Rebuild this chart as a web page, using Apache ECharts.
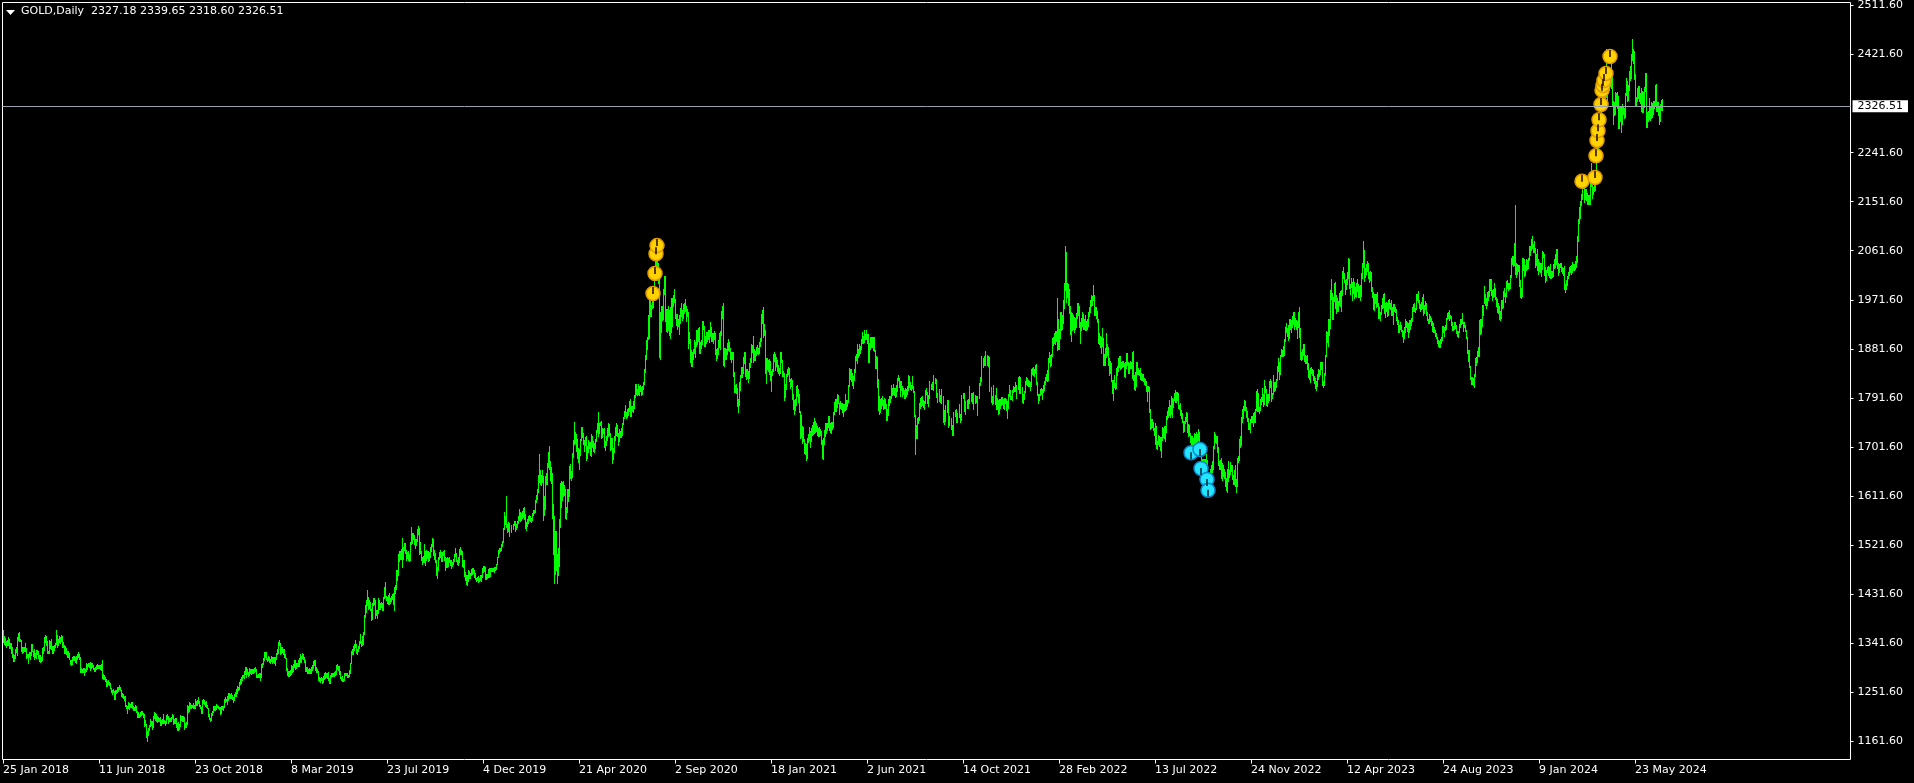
<!DOCTYPE html>
<html><head><meta charset="utf-8">
<script src="https://cdn.jsdelivr.net/npm/echarts@6.0.0/dist/echarts.min.js"></script>
<style>html,body{margin:0;padding:0;background:#000;overflow:hidden}#c{width:1914px;height:783px}</style>
</head><body><div id="c"></div>
<script>
// ---- Daily highs / lows (GOLD, Daily) ----
const hi2018=[1366,1355,1351,1345,1348,
1352,1349,1342,1341,1335,1322,1320,1330,1334,1352,1361,1362,1350,1348,1334,1334,1334,1341,1333,1321,
1322,1325,1325,1340,1340,1328,1330,1323,1329,1329,1328,1319,1319,1316,1333,1334,1352,1356,1355,1345,1328,
1347,1345,1349,1336,1337,1339,1342,1366,1356,1349,1355,1353,1356,1354,1344,1339,1337,1333,1327,1328,1324,
1310,1310,1316,1318,1318,1316,1318,1322,1325,1322,1316,1296,1294,1296,1296,1294,1305,1304,1306,1305,1307,1305,1306,
1302,1296,1298,1301,1304,1302,1302,1301,1304,1310,1285,1284,1280,1275,1272,1274,1270,1269,1260,1256,1257,
1253,1256,1256,1262,1262,1264,1261,1256,1250,1249,1245,1245,1229,1227,1233,1232,1230,1233,1233,1226,1225,1228,
1226,1218,1215,1212,1216,1217,1217,1214,1211,1200,1193,1180,1186,1192,1203,1199,1198,1207,1216,1214,1211,1208,1206,
1205,1206,1201,1203,1212,1201,1198,1210,1212,1208,1205,1204,1206,1211,1210,1202,1204,1204,1195,1196,
1194,1209,1207,1207,1208,1206,1195,1197,1228,1227,1233,1232,1228,1229,1232,1229,1240,1236,1237,1243,1236,1229,1225,
1238,1240,1237,1233,1236,1228,1223,1211,1205,1213,1218,1226,1226,1227,1230,1229,1226,1225,1224,1226,1227,1226,
1239,1242,1240,1244,1250,1250,1249,1250,1246,1243,1249,1252,1258,1263,1261,1271,1275,1279,1283,1284];
const lo2018=[1341,1338,1336,1333,1336,
1337,1331,1330,1322,1315,1307,1307,1313,1324,1318,1345,1343,1343,1325,1322,1324,1325,1326,1313,1314,
1303,1315,1311,1318,1326,1316,1310,1314,1313,1320,1313,1307,1306,1307,1309,1322,1328,1342,1336,1322,1321,
1322,1331,1329,1321,1322,1328,1332,1338,1333,1336,1342,1340,1343,1333,1332,1322,1322,1319,1315,1314,1310,
1301,1300,1302,1308,1309,1305,1304,1311,1314,1311,1287,1287,1286,1286,1282,1286,1288,1292,1297,1296,1290,1295,1296,
1293,1288,1288,1292,1294,1294,1294,1292,1290,1275,1274,1274,1271,1262,1261,1265,1263,1257,1251,1246,1250,
1237,1238,1249,1250,1252,1255,1253,1242,1241,1239,1236,1225,1221,1211,1221,1219,1222,1222,1221,1218,1217,1218,
1214,1204,1204,1205,1206,1208,1209,1205,1188,1190,1167,1160,1172,1180,1187,1190,1183,1186,1202,1199,1197,1195,1197,
1196,1189,1190,1194,1193,1193,1189,1194,1201,1193,1196,1197,1197,1202,1192,1193,1194,1185,1180,1181,
1182,1188,1199,1196,1196,1183,1185,1186,1192,1214,1215,1221,1220,1222,1221,1220,1221,1227,1226,1230,1224,1220,1211,
1212,1230,1228,1225,1222,1220,1206,1200,1196,1199,1208,1213,1218,1217,1219,1222,1220,1219,1210,1211,1219,1217,
1222,1231,1234,1229,1235,1240,1240,1240,1237,1232,1236,1243,1243,1248,1254,1256,1264,1266,1273,1277];
const hi2019=[1291,1297,1298,1295,1288,1296,1294,1295,1294,1294,1296,1298,1295,1284,1285,1286,1286,1303,1306,1314,1326,1326,
1325,1315,1318,1316,1313,1318,1316,1316,1316,1316,1324,1330,1344,1347,1342,1335,1334,1330,1330,1322,
1315,1296,1290,1291,1293,1301,1300,1303,1311,1311,1305,1305,1310,1315,1321,1318,1324,1322,1316,1311,1298,
1298,1294,1296,1295,1297,1302,1309,1311,1310,1297,1295,1290,1280,1278,1280,1278,1282,1286,1289,1287,1286,
1289,1278,1283,1286,1287,1287,1288,1290,1302,1303,1299,1299,1290,1280,1282,1276,1286,1287,1286,1286,1284,1292,1306,
1328,1330,1336,1340,1348,1340,1331,1337,1346,1358,1345,1354,1362,1394,1411,1420,1439,1426,1420,1417,
1405,1416,1425,1424,1421,1403,1402,1424,1420,1416,1418,1416,1427,1445,1453,1429,1427,1430,1433,1424,1428,1432,1434,
1445,1449,1475,1475,1505,1510,1510,1515,1535,1518,1525,1525,1513,1508,1510,1505,1528,1555,1543,1544,1540,1532,
1533,1551,1557,1552,1528,1511,1500,1502,1523,1510,1513,1511,1510,1508,1518,1524,1535,1533,1512,1507,1495,
1482,1500,1509,1512,1509,1509,1511,1512,1499,1497,1499,1497,1500,1495,1495,1490,1496,1505,1517,1507,1495,1499,1515,
1518,1512,1510,1494,1495,1473,1467,1466,1475,1474,1471,1477,1479,1479,1475,1470,1462,1463,1464,1461,1466,
1467,1480,1484,1483,1482,1468,1468,1478,1479,1479,1479,1480,1479,1481,1481,1487,1499,1512,1516,1516,1524];
const lo2019=[1276,1283,1277,1283,1279,1281,1285,1284,1285,1285,1287,1289,1278,1277,1277,1278,1273,1278,1296,1301,1309,1315,
1310,1307,1309,1305,1303,1307,1304,1305,1304,1300,1310,1320,1321,1336,1320,1321,1323,1319,1315,1312,
1291,1282,1280,1280,1282,1283,1286,1289,1296,1293,1294,1297,1298,1297,1305,1306,1312,1311,1305,1288,1289,
1285,1285,1285,1285,1285,1290,1295,1300,1290,1286,1286,1272,1271,1268,1272,1266,1268,1274,1275,1278,1276,
1272,1266,1267,1277,1279,1279,1280,1281,1283,1292,1290,1284,1275,1273,1270,1271,1272,1281,1282,1277,1277,1279,1285,
1304,1320,1319,1327,1333,1322,1320,1325,1330,1340,1335,1337,1339,1357,1387,1397,1410,1402,1404,1400,
1382,1384,1409,1412,1386,1391,1386,1395,1402,1402,1406,1401,1401,1422,1425,1419,1414,1412,1412,1413,1417,1420,1411,
1400,1432,1440,1455,1465,1490,1494,1494,1480,1495,1510,1506,1493,1496,1492,1490,1493,1522,1524,1531,1521,1515,
1520,1527,1540,1503,1505,1493,1485,1488,1489,1484,1493,1496,1490,1493,1497,1508,1518,1501,1495,1489,1464,
1459,1474,1494,1497,1491,1490,1502,1493,1474,1480,1480,1482,1488,1484,1478,1481,1485,1490,1500,1491,1485,1483,1489,
1503,1503,1481,1480,1463,1456,1449,1446,1454,1460,1459,1464,1467,1468,1462,1458,1454,1455,1452,1454,1455,
1454,1462,1470,1472,1458,1458,1460,1462,1462,1463,1472,1473,1472,1471,1474,1476,1485,1497,1505,1508,1510];
const hi2020=[1529,1553,1582,1575,1611,1561,1563,1562,1550,1558,1558,1561,1566,1566,1561,1566,1574,1588,1583,1580,1584,1590,
1592,1578,1563,1569,1575,1576,1574,1572,1580,1585,1586,1604,1613,1625,1650,1689,1660,1650,1660,1648,
1611,1649,1653,1673,1692,1703,1675,1665,1654,1596,1575,1547,1548,1505,1516,1570,1635,1640,1637,1640,1632,1624,
1592,1625,1625,1667,1671,1657,1690,1715,1747,1729,1725,1716,1700,1698,1717,1738,1738,1728,1715,1720,1722,
1703,1715,1711,1710,1726,1722,1712,1709,1717,1733,1745,1765,1745,1748,1749,1737,1734,1737,1712,1722,1737,
1745,1744,1727,1718,1718,1700,1722,1739,1745,1742,1727,1734,1731,1736,1745,1756,1768,1779,1765,1772,1773,1785,
1789,1776,1777,1785,1796,1818,1818,1808,1818,1813,1815,1812,1813,1820,1844,1871,1898,1903,1944,1981,1970,1962,1984,
1986,2020,2055,2070,2075,2040,2030,1950,1960,1960,1991,2015,2015,1955,1954,1960,1952,1958,1975,1974,1980,
1992,1973,1946,1945,1936,1944,1956,1965,1953,1963,1966,1973,1961,1955,1950,1913,1900,1880,1876,1882,1897,1894,
1917,1917,1919,1921,1895,1898,1932,1933,1923,1905,1913,1912,1916,1916,1931,1922,1910,1911,1914,1911,1882,1883,
1898,1911,1915,1951,1960,1965,1884,1883,1882,1892,1900,1895,1883,1875,1876,1875,1840,1815,1817,1810,1790,
1820,1833,1848,1848,1866,1875,1875,1844,1845,1841,1855,1864,1891,1889,1906,1882,1878,1885,1889,1883,1894,1901];
const lo2020=[1518,1525,1550,1558,1553,1543,1545,1546,1536,1543,1547,1550,1557,1546,1549,1552,1561,1566,1563,1565,1570,1572,
1568,1551,1548,1554,1561,1566,1563,1562,1566,1574,1578,1580,1598,1605,1618,1636,1632,1630,1635,1565,
1575,1585,1632,1632,1663,1660,1640,1634,1570,1504,1451,1466,1474,1451,1465,1482,1552,1590,1603,1609,1612,1569,
1568,1580,1601,1610,1643,1640,1645,1681,1706,1707,1692,1680,1673,1660,1685,1712,1718,1705,1692,1704,1675,
1680,1690,1698,1685,1684,1700,1692,1691,1697,1710,1727,1720,1725,1740,1716,1718,1725,1700,1695,1703,1712,
1720,1722,1694,1696,1670,1677,1690,1712,1722,1720,1704,1710,1718,1718,1722,1741,1752,1757,1752,1755,1759,1766,
1757,1757,1765,1764,1772,1791,1796,1795,1797,1795,1803,1795,1797,1806,1815,1838,1862,1880,1898,1899,1940,1940,1955,
1956,1970,2015,2032,2015,2000,1864,1862,1910,1932,1935,1980,1930,1912,1911,1915,1906,1899,1910,1921,1958,
1966,1936,1924,1917,1922,1907,1927,1940,1932,1937,1946,1949,1930,1940,1882,1891,1855,1849,1848,1861,1872,1865,
1885,1888,1895,1873,1873,1881,1888,1917,1885,1885,1890,1895,1897,1893,1904,1895,1894,1890,1897,1871,1860,1863,
1870,1884,1879,1905,1936,1850,1848,1861,1862,1871,1878,1876,1862,1855,1861,1830,1800,1800,1799,1775,1764,
1776,1805,1828,1828,1835,1854,1830,1824,1826,1819,1826,1847,1855,1874,1855,1860,1860,1868,1872,1871,1873,1885];
const hi2021=[1945,1953,1959,1927,1917,1864,1864,1862,1863,1859,1841,1845,1872,1875,1872,1867,1862,1852,1846,1875,
1875,1862,1841,1837,1818,1835,1844,1848,1847,1827,1829,1825,1799,1788,1790,1813,1815,1808,1798,1768,
1760,1740,1738,1717,1709,1707,1718,1726,1739,1731,1736,1741,1748,1755,1750,1745,1740,1737,1738,1735,1730,1714,1718,
1733,1745,1746,1745,1759,1759,1746,1748,1747,1766,1784,1790,1790,1798,1797,1783,1785,1783,1783,1780,1780,
1799,1787,1787,1816,1846,1845,1844,1837,1831,1845,1869,1873,1890,1882,1890,1887,1900,1913,1906,1916,1908,
1916,1909,1909,1893,1904,1903,1903,1903,1903,1879,1868,1866,1826,1795,1789,1792,1795,1787,1792,1789,1780,1772,
1790,1795,1795,1815,1809,1818,1810,1809,1815,1829,1834,1829,1823,1823,1813,1809,1807,1810,1808,1814,1833,1832,
1820,1815,1832,1813,1804,1761,1741,1755,1757,1782,1791,1794,1795,1788,1785,1806,1809,1802,1797,1823,1820,1817,
1820,1817,1834,1828,1827,1800,1800,1808,1796,1808,1802,1795,1770,1769,1778,1788,1787,1755,1759,1755,1742,1764,
1765,1770,1771,1763,1764,1781,1762,1770,1796,1800,1800,1772,1785,1788,1790,1813,1810,1800,1800,1801,1802,
1797,1795,1794,1795,1819,1830,1834,1868,1864,1869,1870,1877,1870,1869,1866,1847,1812,1795,1797,1816,1796,1809,
1792,1787,1790,1789,1793,1793,1790,1791,1792,1790,1785,1799,1815,1806,1795,1807,1813,1812,1820,1812,1815,1830];
const lo2021=[1895,1928,1901,1906,1835,1817,1843,1839,1834,1823,1802,1831,1840,1858,1841,1849,1840,1836,1831,1836,
1855,1830,1830,1785,1791,1807,1830,1833,1820,1808,1811,1788,1770,1760,1768,1776,1793,1782,1764,1717,
1718,1707,1711,1688,1687,1676,1679,1708,1713,1699,1711,1721,1723,1726,1727,1729,1722,1720,1720,1722,1705,1680,1677,
1705,1720,1725,1730,1736,1731,1727,1726,1733,1736,1760,1765,1765,1773,1780,1760,1772,1770,1763,1756,1766,
1768,1770,1775,1782,1812,1825,1821,1813,1808,1823,1837,1860,1854,1865,1869,1873,1879,1890,1890,1893,1898,
1898,1890,1855,1855,1880,1883,1883,1877,1875,1845,1844,1810,1768,1761,1763,1772,1776,1770,1772,1771,1750,1750,
1758,1776,1783,1789,1795,1797,1795,1791,1793,1803,1822,1810,1794,1805,1794,1796,1789,1790,1794,1796,1805,1809,
1806,1804,1808,1801,1756,1687,1717,1717,1744,1750,1771,1774,1777,1773,1770,1781,1796,1780,1775,1790,1808,1806,
1806,1805,1809,1818,1792,1783,1785,1784,1782,1781,1791,1745,1742,1748,1762,1763,1737,1740,1741,1732,1722,1722,
1748,1756,1745,1745,1749,1755,1746,1750,1757,1789,1766,1760,1766,1772,1772,1780,1790,1784,1781,1781,1770,
1780,1782,1759,1763,1790,1813,1821,1822,1847,1850,1855,1850,1850,1849,1844,1802,1782,1778,1785,1781,1778,1770,
1770,1761,1762,1772,1776,1778,1772,1770,1781,1767,1752,1772,1794,1787,1787,1786,1800,1802,1803,1790,1795,1806];
const hi2022=[1831,1815,1830,1811,1799,1805,1823,1830,1829,1824,1823,1820,1845,1847,1848,1845,1852,1853,1820,1799,1799,
1808,1809,1808,1816,1822,1830,1836,1842,1865,1875,1870,1873,1902,1903,1911,1914,1914,1974,1936,1918,
1950,1950,1943,1971,2002,2070,2060,2003,2000,1991,1961,1950,1948,1944,1940,1939,1948,1966,1966,1960,1931,1939,1950,
1945,1937,1943,1932,1936,1949,1958,1971,1981,1979,1998,1980,1958,1959,1951,1936,1910,1906,1903,1920,
1901,1873,1883,1910,1890,1885,1865,1860,1856,1825,1825,1833,1819,1847,1850,1865,1869,1868,1857,1860,1860,1855,
1857,1874,1874,1858,1856,1860,1858,1876,1877,1833,1840,1857,1857,1847,1843,1847,1838,1835,1836,1829,1826,1822,
1813,1814,1812,1771,1752,1752,1747,1737,1745,1740,1713,1723,1721,1719,1720,1739,1736,1740,1740,1759,1767,
1775,1788,1778,1795,1792,1790,1800,1807,1802,1803,1800,1779,1783,1770,1763,1749,1750,1757,1765,1763,1744,1741,1728,
1722,1722,1718,1728,1726,1729,1726,1735,1729,1709,1708,1680,1680,1679,1680,1688,1678,1654,1642,1661,1669,1676,
1704,1729,1726,1721,1721,1702,1675,1677,1682,1672,1669,1662,1655,1645,1662,1675,1660,1674,1669,1668,1650,
1660,1669,1642,1682,1685,1717,1722,1757,1772,1776,1787,1786,1775,1768,1755,1745,1753,1759,1759,1764,1765,1772,
1804,1808,1800,1774,1790,1794,1810,1798,1824,1814,1808,1799,1799,1822,1826,1823,1800,1833,1821,1821,1826];
const lo2022=[1799,1798,1807,1782,1780,1788,1800,1816,1814,1811,1812,1805,1812,1834,1831,1830,1836,1815,1795,1780,1785,
1795,1796,1788,1801,1805,1816,1823,1820,1822,1855,1849,1850,1866,1886,1891,1888,1894,1878,1880,1879,
1900,1915,1917,1928,1954,1988,1966,1975,1960,1945,1907,1895,1915,1917,1910,1917,1919,1936,1941,1920,1890,1914,1921,
1917,1916,1915,1914,1917,1922,1940,1947,1959,1960,1970,1942,1941,1936,1929,1891,1889,1883,1872,1885,
1850,1851,1850,1865,1869,1850,1832,1835,1820,1798,1786,1810,1807,1808,1832,1840,1847,1842,1845,1846,1848,1830,
1828,1845,1850,1836,1836,1845,1845,1826,1823,1806,1805,1812,1834,1834,1831,1825,1823,1822,1820,1815,1813,1803,
1784,1802,1763,1732,1734,1736,1730,1722,1706,1697,1696,1706,1701,1694,1681,1712,1718,1716,1711,1728,1751,
1754,1759,1754,1761,1754,1773,1785,1782,1783,1786,1772,1770,1759,1753,1746,1727,1729,1743,1747,1727,1720,1721,1708,
1688,1698,1705,1700,1691,1706,1711,1712,1697,1696,1660,1654,1656,1662,1654,1657,1639,1627,1622,1615,1642,1653,
1660,1697,1708,1707,1690,1666,1659,1660,1642,1640,1646,1643,1628,1621,1617,1638,1645,1651,1655,1641,1632,
1631,1629,1617,1629,1672,1675,1700,1703,1746,1753,1767,1768,1755,1747,1733,1733,1728,1745,1745,1739,1745,1746,
1767,1766,1765,1762,1767,1779,1784,1775,1779,1801,1776,1774,1782,1785,1810,1784,1790,1796,1803,1804,1810];
const hi2023=[1851,1865,1858,1870,1881,1879,1886,1900,1922,1929,1920,1925,1936,1936,1935,1942,1949,1949,1938,1934,1932,
1950,1959,1919,1875,1881,1890,1890,1871,1869,1871,1855,1842,1846,1848,1844,1842,1831,1828,1823,1836,
1845,1843,1858,1858,1857,1822,1837,1870,1914,1913,1937,1936,1990,2010,1984,1976,2003,2004,1980,1975,1970,1984,1987,
1990,2025,2032,2021,2008,2009,2022,2048,2047,2000,2012,2005,2012,2005,1995,2003,2009,2000,1997,
1999,2020,2040,2080,2063,2030,2037,2042,2039,2023,2025,2022,1995,1985,1983,1983,1983,1985,1966,1958,1949,1962,1975,
1983,1984,1966,1967,1965,1972,1973,1966,1972,1959,1963,1964,1958,1955,1940,1934,1925,1930,1926,1917,1914,1921,
1936,1933,1931,1929,1935,1934,1939,1959,1963,1965,1956,1982,1983,1987,1972,1964,1967,1977,1982,1962,1970,
1966,1950,1937,1946,1942,1939,1932,1929,1921,1917,1910,1904,1898,1896,1900,1903,1923,1923,1922,1925,1939,1948,1949,
1953,1943,1942,1930,1924,1930,1930,1925,1915,1915,1928,1937,1937,1947,1930,1930,1926,1916,1904,1880,1880,
1850,1830,1830,1829,1835,1864,1867,1877,1885,1934,1937,1937,1962,1962,1997,1983,1975,1986,1988,2009,2009,2010,
1990,1992,2003,1993,1977,1973,1965,1961,1951,1972,1972,1988,1993,1984,2007,2008,2003,2003,2017,2048,2052,2052,
2075,2146,2039,2037,2036,2035,2008,1993,2048,2048,2047,2036,2047,2045,2048,2070,2070,2083,2088,2074];
const lo2023=[1822,1840,1825,1834,1866,1867,1867,1868,1895,1910,1903,1896,1900,1917,1911,1920,1925,1917,1921,1916,1900,
1920,1901,1861,1860,1861,1869,1858,1853,1853,1843,1829,1825,1819,1835,1831,1822,1818,1808,1804,1811,
1825,1830,1834,1842,1813,1809,1813,1832,1867,1893,1885,1906,1918,1972,1934,1934,1968,1955,1945,1949,1950,1961,1959,
1950,1979,2010,2002,1981,1990,1999,2010,1992,1981,1993,1969,1983,1973,1976,1975,1986,1974,1975,
1970,1977,2010,2030,2004,2012,2018,2022,2009,2002,2006,1986,1975,1952,1951,1964,1957,1958,1936,1936,1932,1944,1954,
1956,1946,1938,1950,1940,1942,1955,1952,1942,1941,1925,1950,1947,1932,1925,1911,1910,1917,1912,1903,1893,1900,
1911,1920,1912,1902,1910,1916,1924,1930,1950,1950,1947,1952,1969,1966,1955,1950,1953,1954,1942,1946,1953,
1941,1932,1927,1928,1930,1923,1913,1911,1910,1903,1900,1890,1885,1884,1884,1891,1896,1911,1904,1914,1917,1934,1936,
1932,1936,1923,1915,1915,1917,1918,1908,1903,1901,1910,1920,1925,1928,1913,1919,1912,1899,1873,1857,1846,
1825,1815,1815,1813,1810,1830,1851,1856,1866,1867,1907,1908,1922,1942,1963,1960,1954,1961,1970,1977,1987,1979,
1970,1975,1977,1972,1958,1947,1945,1935,1932,1937,1954,1957,1977,1965,1976,1992,1988,1990,1992,2011,2035,2031,
2034,2018,2011,2017,2023,1995,1975,1973,1977,2025,2014,2016,2024,2027,2029,2043,2052,2062,2064,2058];
const hi2024=[2079,2066,2055,2064,2047,2041,2040,2040,2062,2060,2056,2031,2027,2032,2034,2032,2038,2024,2025,2037,2047,2056,
2065,2065,2040,2038,2040,2040,2032,2030,2033,2000,2008,2016,2022,2032,2033,2035,2041,2038,2037,2042,2052,
2088,2120,2141,2153,2165,2195,2189,2185,2175,2175,2167,2164,2164,2187,2222,2183,2178,2185,2196,2236,
2266,2281,2305,2305,2330,2354,2365,2354,2378,2431,2387,2393,2394,2388,2418,2392,2336,2335,2352,2351,2353,2346,
2326,2326,2325,2331,2326,2323,2351,2378,2373,2365,2392,2400,2422,2450,2431,2428,2385,2343,2361,2364,2363,2351,2360,
2354,2352,2362,2388,2388,2316,2318,2342,2326,2335,2332,2336,2336,2365,2368,2334,2335,2325,2330,2339,
2339.65];
const lo2024=[2058,2030,2034,2024,2017,2022,2020,2013,2027,2049,2015,2002,2007,2020,2016,2011,2010,2010,2011,2014,2028,2030,
2036,2029,2015,2021,2030,2023,2019,2016,1990,1984,1990,1996,2010,2015,2021,2018,2021,2025,2025,2026,2030,
2039,2078,2110,2120,2143,2154,2175,2150,2155,2152,2146,2146,2146,2146,2178,2156,2163,2169,2172,2192,
2228,2243,2274,2283,2267,2319,2325,2319,2331,2341,2323,2353,2354,2362,2358,2325,2292,2308,2311,2327,2322,2285,
2285,2298,2277,2292,2310,2303,2306,2345,2334,2336,2354,2373,2376,2409,2405,2374,2326,2325,2334,2340,2334,2331,2316,
2314,2314,2323,2352,2286,2287,2297,2302,2300,2303,2305,2310,2322,2328,2316,2316,2309,2293,2298,2318,
2318.60];

// last bar O, H, L, C
const lastBar=[2327.18,2339.65,2318.60,2326.51];
const symbolName='GOLD,Daily';
// price-axis tick labels
const priceTicks=[1161.6,1251.6,1341.6,1431.6,1521.6,1611.6,1701.6,1791.6,1881.6,1971.6,2061.6,2151.6,2241.6,2331.6,2421.6,2511.6].filter(v=>v!==2331.6);
// trading calendar
const firstDay='2018-01-25';
const holidays=['2018-03-30','2018-12-25','2019-01-01','2019-04-19','2019-12-25','2020-01-01','2020-04-10','2020-12-25','2021-01-01','2021-04-02','2021-12-24','2022-04-15','2022-12-26','2023-01-02','2023-04-07','2023-12-25','2024-01-01','2024-03-29'];
// indicator arrows [date, price]
const yellowMarks=[['2020-08-03',1983],['2020-08-05',2020],['2020-08-06',2056],['2020-08-07',2071],
['2024-03-08',2189],['2024-03-27',2196],['2024-03-28',2236],['2024-04-01',2264],['2024-04-02',2282],['2024-04-03',2302],
['2024-04-05',2330],['2024-04-08',2356],['2024-04-09',2365],['2024-04-10',2374],['2024-04-12',2387],['2024-04-18',2418]];
const cyanMarks=[['2022-09-01',1691],['2022-09-14',1697],['2022-09-15',1662],['2022-09-23',1642],['2022-09-26',1622]];

// ---- build ----
const highs=[].concat(hi2018,hi2019,hi2020,hi2021,hi2022,hi2023,hi2024);
const lows=[].concat(lo2018,lo2019,lo2020,lo2021,lo2022,lo2023,lo2024);
const nBars=Math.min(highs.length,lows.length);
const MON=['Jan','Feb','Mar','Apr','May','Jun','Jul','Aug','Sep','Oct','Nov','Dec'];
const hol=new Set(holidays);
const dates=[],labels=[];
let d=new Date(firstDay+'T00:00:00Z');
while(dates.length<nBars){
  const wd=d.getUTCDay(), iso=d.toISOString().slice(0,10);
  if(wd!==0&&wd!==6&&!hol.has(iso)){dates.push(iso);labels.push(d.getUTCDate()+' '+MON[d.getUTCMonth()]+' '+d.getUTCFullYear());}
  d=new Date(d.getTime()+86400000);
}
const GL=2.5, GT=2.5, GW=1848, GH=757;
const cats=dates.slice();
for(let k=0;cats.length<GW;k++) cats.push('pad'+k);
const bars=[];
for(let i=0;i<nBars;i++) bars.push([i,lows[i],highs[i]]);
const STEP=96;
const FONT='DejaVu Sans';

const chart=echarts.init(document.getElementById('c'),null,{renderer:'canvas'});
chart.setOption({
  backgroundColor:'#000',
  animation:false,
  textStyle:{fontFamily:FONT},
  grid:{left:GL,top:GT,width:GW,height:GH,show:true,borderColor:'#ffffff',borderWidth:1,backgroundColor:'transparent'},
  xAxis:{type:'category',data:cats,boundaryGap:true,
    axisLine:{show:false},
    axisTick:{show:true,alignWithLabel:true,length:4,interval:(i)=>i%STEP===0&&i<nBars,lineStyle:{color:'#fff'}},
    axisLabel:{interval:(i)=>i%STEP===0&&i<nBars,formatter:(v,i)=>i<labels.length?labels[i]:'',align:'left',color:'#fff',fontSize:11,fontFamily:FONT,margin:5,hideOverlap:false},
    splitLine:{show:false}},
  yAxis:{type:'value',position:'right',min:1128.1,max:2517.1,scale:true,
    axisLine:{show:false},
    splitLine:{show:false},
    axisTick:{show:true,customValues:priceTicks,length:3,lineStyle:{color:'#fff'}},
    axisLabel:{customValues:priceTicks,formatter:(v)=>Number(v).toFixed(2),color:'#fff',fontSize:11,fontFamily:FONT,margin:7,showMinLabel:true,showMaxLabel:true}},
  graphic:[
    {type:'polygon',shape:{points:[[6,10],[15,10],[10.5,15]]},style:{fill:'#fff'}},
    {type:'text',left:21,top:6,style:{text:symbolName+'  '+lastBar.map(v=>v.toFixed(2)).join(' '),fill:'#fff',font:'11px "DejaVu Sans"'}}
  ],
  series:[
    {type:'custom',name:'bars',data:bars,progressive:0,clip:true,z:2,
      encode:{x:0,y:[1,2]},
      renderItem:(params,api)=>{
        const pL=api.coord([api.value(0),api.value(1)]);
        const pH=api.coord([api.value(0),api.value(2)]);
        const x=Math.floor(pL[0]);
        const top=Math.round(pH[1]), bot=Math.round(pL[1]);
        return {type:'rect',shape:{x:x,y:top,width:1,height:Math.max(1,bot-top)},style:{fill:'#00ff00'}};
      }},
    {type:'scatter',name:'price',data:[],z:3,
      markLine:{silent:true,symbol:'none',animation:false,
        data:[{yAxis:lastBar[3]}],
        lineStyle:{color:'#9aa3ae',width:1,type:'solid'},
        label:{show:true,position:'end',distance:2,formatter:lastBar[3].toFixed(2),backgroundColor:'#fff',color:'#000',padding:[1,5,0,5],fontSize:11,fontFamily:FONT}}},
    {type:'scatter',name:'up',data:yellowMarks,symbol:'circle',symbolSize:14,z:4,
      itemStyle:{color:'#ffd200',borderColor:'#e09a00',borderWidth:1.5,opacity:1}},
    {type:'scatter',name:'upSlit',data:yellowMarks,symbol:'rect',symbolSize:[2,7],symbolOffset:[0,-3],z:5,
      itemStyle:{color:'#2a1200'}},
    {type:'scatter',name:'dn',data:cyanMarks,symbol:'circle',symbolSize:14,z:4,
      itemStyle:{color:'#22e6ff',borderColor:'#0a86c8',borderWidth:1.5,opacity:1}},
    {type:'scatter',name:'dnSlit',data:cyanMarks,symbol:'rect',symbolSize:[2,7],symbolOffset:[0,3],z:5,
      itemStyle:{color:'#062a40'}}
  ]
});
</script></body></html>
